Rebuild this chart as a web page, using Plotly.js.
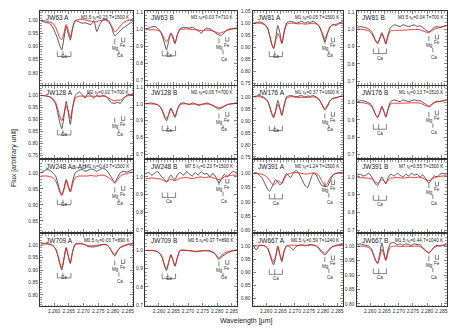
<!DOCTYPE html>
<html>
<head>
<meta charset="utf-8">
<script src="https://cdn.plot.ly/plotly-3.0.1.min.js"></script>
<style>
html, body { margin: 0; padding: 0; background: #fff; }
#grafica { width: 463px; height: 328px; }
</style>
</head>
<body>
<div id="grafica"></div>
<script>
// Longitudes de onda comunes (micras)
const longitudes = [2.2555, 2.2565, 2.2575, 2.2585, 2.2595, 2.2605, 2.2612, 2.2619, 2.2626, 2.2633,
    2.2641, 2.2648, 2.2655, 2.2663, 2.2672, 2.2685, 2.2695, 2.2705, 2.2715, 2.2725,
    2.2735, 2.2745, 2.2755, 2.2765, 2.2775, 2.2785, 2.2795, 2.2806, 2.2815, 2.2825,
    2.2835, 2.2845, 2.2855, 2.2865, 2.2875];

const nombres = ['JW63 A', 'JW63 B', 'JW81 A', 'JW81 B',
    'JW128 A', 'JW128 B', 'JW176 A', 'JW176 B',
    'JW248 Aa-Ab', 'JW248 B', 'JW391 A', 'JW391 B',
    'JW709 A', 'JW709 B', 'JW667 A', 'JW667 B'];

const tipos = ['M3.5', 'M3', 'M1', 'M3.5', 'M2', 'M2', 'M1', 'M1',
    'M1', 'M7.5', 'M0', 'M7', 'M0.5', 'M0.5', 'M0.5', 'M1.5'];
const velado = ['0.23', '0.03', '0.05', '0.04', '0.02', '0.05', '0.37', '0.13',
    '0.43', '0.23', '1.24', '0.55', '0.03', '0.07', '0.59', '0.44'];
const temperaturas = ['1500', '710', '1500', '700', '700', '700', '1600', '1510',
    '1500', '1500', '1500', '1500', '890', '890', '1240', '1040'];

// Espectros observados (negro) y modelos (rojo)
const obs_JW63A = [1.000, 0.995, 0.992, 0.990, 0.975, 0.950, 0.930, 0.905, 0.889, 0.930, 0.977, 0.950, 0.925, 0.970, 1.000, 0.995, 0.990, 0.992, 0.988, 0.985, 1.000, 0.958, 0.985, 1.002, 1.005, 1.000, 0.975, 0.942, 0.950, 0.962, 0.972, 0.980, 0.988, 0.995, 1.000];
const mod_JW63A = [1.000, 1.000, 0.998, 0.995, 0.990, 0.975, 0.955, 0.935, 0.927, 0.950, 0.985, 0.965, 0.935, 0.975, 1.000, 1.005, 1.005, 1.003, 1.000, 0.998, 0.995, 0.997, 1.000, 1.002, 1.002, 0.995, 0.980, 0.958, 0.965, 0.980, 0.992, 0.998, 1.002, 1.005, 1.005];
const obs_JW63B = [1.000, 1.005, 1.012, 1.015, 1.005, 0.985, 0.955, 0.915, 0.879, 0.925, 0.973, 0.945, 0.914, 0.965, 1.000, 1.010, 1.008, 1.005, 1.010, 1.000, 0.990, 0.975, 0.995, 1.005, 1.000, 0.990, 0.975, 0.965, 0.963, 0.980, 0.995, 1.000, 1.003, 1.005, 1.005];
const mod_JW63B = [0.995, 0.995, 0.995, 0.995, 0.993, 0.985, 0.965, 0.940, 0.924, 0.945, 0.975, 0.955, 0.920, 0.965, 0.995, 1.000, 1.000, 0.998, 0.997, 0.995, 0.993, 0.990, 0.992, 0.993, 0.992, 0.988, 0.982, 0.975, 0.978, 0.985, 0.992, 0.997, 1.000, 1.002, 1.003];
const obs_JW81A = [1.000, 1.002, 1.005, 1.003, 0.995, 0.980, 0.950, 0.915, 0.895, 0.935, 0.990, 0.960, 0.916, 0.965, 1.000, 1.008, 1.005, 1.000, 1.003, 1.008, 1.000, 1.005, 1.003, 1.008, 1.000, 0.990, 0.960, 0.922, 0.955, 0.985, 0.995, 0.990, 0.998, 1.005, 1.008];
const mod_JW81A = [1.000, 1.000, 1.000, 0.998, 0.992, 0.978, 0.950, 0.915, 0.895, 0.925, 0.957, 0.940, 0.916, 0.960, 0.995, 1.000, 1.000, 0.998, 0.997, 0.998, 0.996, 0.997, 0.998, 1.000, 0.997, 0.990, 0.965, 0.935, 0.960, 0.985, 0.993, 0.995, 1.000, 1.003, 1.005];
const obs_JW81B = [1.010, 1.015, 1.012, 1.008, 1.000, 0.985, 0.960, 0.935, 0.920, 0.945, 0.980, 0.950, 0.916, 0.970, 1.010, 1.025, 1.020, 1.015, 1.025, 1.020, 1.015, 1.020, 1.025, 1.015, 1.020, 1.010, 0.995, 0.985, 0.995, 1.010, 1.015, 1.010, 1.015, 1.020, 1.020];
const mod_JW81B = [1.000, 1.000, 0.998, 0.995, 0.990, 0.975, 0.955, 0.930, 0.916, 0.940, 0.972, 0.950, 0.916, 0.960, 0.990, 0.992, 0.993, 0.993, 0.994, 0.995, 0.996, 0.997, 0.998, 0.998, 0.996, 0.990, 0.984, 0.980, 0.990, 1.000, 1.005, 1.010, 1.014, 1.018, 1.020];
const obs_JW128A = [1.000, 1.000, 0.998, 0.995, 0.985, 0.965, 0.930, 0.890, 0.862, 0.910, 0.976, 0.930, 0.880, 0.950, 1.000, 1.015, 1.005, 0.990, 1.010, 1.000, 0.990, 1.000, 0.995, 1.000, 0.998, 0.985, 0.970, 0.968, 0.972, 0.968, 0.985, 1.000, 1.005, 1.005, 1.005];
const mod_JW128A = [1.000, 1.000, 0.998, 0.995, 0.988, 0.972, 0.945, 0.915, 0.895, 0.920, 0.958, 0.935, 0.905, 0.950, 0.990, 0.998, 0.998, 0.997, 0.998, 0.998, 0.997, 0.998, 0.998, 0.998, 0.996, 0.990, 0.983, 0.978, 0.982, 0.980, 0.990, 0.997, 1.000, 1.002, 1.002];
const obs_JW128B = [1.000, 1.003, 1.005, 1.000, 0.995, 0.980, 0.955, 0.920, 0.900, 0.935, 0.975, 0.950, 0.920, 0.965, 1.000, 1.005, 1.000, 0.995, 1.005, 1.000, 0.990, 0.995, 1.000, 1.005, 0.998, 0.990, 0.978, 0.968, 0.975, 0.985, 0.995, 1.000, 1.002, 1.005, 1.005];
const mod_JW128B = [1.000, 1.000, 0.999, 0.998, 0.993, 0.982, 0.960, 0.930, 0.912, 0.935, 0.970, 0.950, 0.922, 0.962, 0.995, 1.000, 1.000, 0.998, 0.998, 0.998, 0.996, 0.997, 0.998, 0.999, 0.997, 0.990, 0.982, 0.976, 0.980, 0.988, 0.995, 0.998, 1.000, 1.002, 1.002];
const obs_JW176A = [1.000, 1.003, 1.005, 1.002, 0.995, 0.982, 0.960, 0.930, 0.912, 0.940, 0.985, 0.955, 0.922, 0.965, 1.000, 1.005, 1.003, 1.000, 1.003, 1.005, 1.000, 1.003, 1.002, 1.005, 1.000, 0.990, 0.970, 0.945, 0.960, 0.985, 0.995, 0.995, 1.000, 1.003, 1.005];
const mod_JW176A = [1.000, 1.000, 1.000, 0.998, 0.993, 0.982, 0.962, 0.935, 0.918, 0.940, 0.968, 0.950, 0.925, 0.962, 0.995, 1.000, 1.000, 0.998, 0.997, 0.998, 0.997, 0.998, 0.998, 1.000, 0.997, 0.990, 0.970, 0.950, 0.965, 0.985, 0.993, 0.996, 1.000, 1.002, 1.004];
const obs_JW176B = [1.005, 1.010, 1.010, 1.005, 0.998, 0.985, 0.960, 0.930, 0.912, 0.940, 0.978, 0.950, 0.915, 0.965, 1.005, 1.015, 1.010, 1.005, 1.015, 1.010, 1.005, 1.010, 1.015, 1.010, 1.010, 1.000, 0.990, 0.975, 0.985, 1.000, 1.008, 1.005, 1.010, 1.012, 1.015];
const mod_JW176B = [1.000, 1.000, 0.998, 0.995, 0.990, 0.976, 0.955, 0.930, 0.915, 0.938, 0.970, 0.948, 0.918, 0.960, 0.992, 0.995, 0.996, 0.996, 0.996, 0.997, 0.997, 0.998, 0.998, 0.998, 0.996, 0.990, 0.982, 0.978, 0.988, 0.998, 1.003, 1.006, 1.010, 1.012, 1.014];
const obs_JW248A = [1.000, 1.005, 1.010, 1.008, 1.000, 0.990, 0.970, 0.945, 0.932, 0.950, 0.979, 0.960, 0.942, 0.975, 1.000, 1.008, 1.010, 1.005, 1.008, 1.012, 1.010, 1.005, 1.010, 1.015, 1.010, 1.000, 0.985, 0.970, 0.985, 1.000, 1.005, 1.002, 1.005, 1.010, 1.010];
const mod_JW248A = [0.990, 0.990, 0.990, 0.988, 0.985, 0.975, 0.960, 0.940, 0.929, 0.945, 0.974, 0.955, 0.940, 0.965, 0.985, 0.990, 0.990, 0.990, 0.990, 0.992, 0.990, 0.990, 0.992, 0.993, 0.990, 0.985, 0.978, 0.968, 0.978, 0.990, 0.995, 0.997, 1.000, 1.002, 1.003];
const obs_JW248B = [1.020, 1.025, 1.010, 1.020, 1.030, 1.010, 0.995, 0.985, 0.970, 0.990, 1.010, 0.995, 0.985, 1.010, 1.025, 1.010, 1.030, 1.015, 1.005, 1.025, 1.010, 1.030, 1.015, 1.020, 1.000, 1.020, 1.000, 0.965, 0.990, 1.015, 1.000, 1.020, 1.030, 1.025, 1.030];
const mod_JW248B = [0.990, 0.992, 0.993, 0.992, 0.990, 0.988, 0.983, 0.978, 0.975, 0.980, 0.988, 0.983, 0.978, 0.985, 0.993, 0.995, 0.997, 0.993, 0.990, 0.995, 0.998, 1.000, 0.995, 0.998, 1.000, 0.995, 0.990, 0.985, 0.990, 1.000, 1.005, 1.008, 1.010, 1.010, 1.010];
const obs_JW391A = [1.000, 1.003, 0.995, 0.985, 0.965, 0.945, 0.938, 0.950, 0.965, 0.978, 0.970, 0.960, 0.965, 0.985, 1.000, 0.985, 1.000, 1.011, 1.000, 0.980, 0.960, 0.950, 0.975, 1.000, 0.995, 0.975, 0.958, 0.955, 0.955, 0.975, 0.995, 1.000, 1.002, 1.003, 1.003];
const mod_JW391A = [1.000, 1.000, 0.999, 0.997, 0.993, 0.985, 0.975, 0.965, 0.960, 0.965, 0.975, 0.970, 0.965, 0.980, 0.995, 1.000, 1.003, 1.003, 1.002, 1.000, 0.998, 0.998, 1.000, 1.002, 1.000, 0.993, 0.975, 0.958, 0.965, 0.985, 0.995, 1.000, 1.002, 1.003, 1.004];
const obs_JW391B = [1.010, 1.015, 1.005, 1.010, 1.020, 1.000, 0.980, 0.960, 0.950, 0.975, 1.000, 0.980, 0.960, 0.995, 1.015, 1.005, 1.020, 1.010, 1.000, 1.015, 1.005, 1.020, 1.010, 1.015, 1.000, 1.010, 0.990, 0.965, 0.985, 1.005, 1.000, 1.015, 1.020, 1.015, 1.020];
const mod_JW391B = [0.995, 0.995, 0.995, 0.994, 0.992, 0.988, 0.980, 0.970, 0.965, 0.972, 0.985, 0.978, 0.968, 0.982, 0.993, 0.995, 0.997, 0.995, 0.993, 0.995, 0.997, 0.998, 0.996, 0.998, 0.998, 0.993, 0.985, 0.978, 0.985, 0.995, 1.000, 1.003, 1.005, 1.006, 1.006];
const obs_JW709A = [1.008, 1.008, 1.006, 1.005, 1.000, 0.985, 0.960, 0.925, 0.900, 0.940, 0.990, 0.955, 0.926, 0.975, 1.005, 1.008, 1.005, 1.002, 0.995, 0.993, 0.993, 0.995, 0.998, 1.002, 1.003, 0.995, 0.975, 0.956, 0.975, 0.990, 0.995, 1.000, 1.003, 1.005, 1.008];
const mod_JW709A = [1.005, 1.005, 1.005, 1.003, 0.998, 0.985, 0.962, 0.930, 0.909, 0.945, 0.990, 0.958, 0.930, 0.975, 1.002, 1.005, 1.005, 1.002, 0.998, 0.997, 0.998, 1.000, 1.002, 1.003, 1.003, 0.995, 0.978, 0.963, 0.978, 0.992, 0.998, 1.002, 1.005, 1.007, 1.008];
const obs_JW709B = [1.000, 1.000, 1.000, 0.998, 0.993, 0.980, 0.955, 0.915, 0.890, 0.930, 0.976, 0.945, 0.913, 0.960, 1.000, 1.002, 1.000, 0.998, 0.997, 0.993, 0.995, 0.997, 0.998, 0.998, 0.995, 0.990, 0.975, 0.950, 0.965, 0.975, 0.985, 0.993, 0.998, 1.000, 1.002];
const mod_JW709B = [1.000, 1.000, 1.000, 0.998, 0.993, 0.980, 0.958, 0.920, 0.898, 0.935, 0.976, 0.948, 0.916, 0.960, 0.998, 1.000, 1.000, 0.998, 0.997, 0.995, 0.996, 0.998, 0.999, 0.999, 0.997, 0.990, 0.978, 0.958, 0.972, 0.985, 0.992, 0.997, 1.000, 1.002, 1.003];
const obs_JW667A = [1.000, 0.985, 1.000, 1.002, 1.000, 0.990, 0.970, 0.945, 0.928, 0.955, 0.995, 0.965, 0.940, 0.980, 1.000, 0.995, 0.985, 0.998, 1.002, 1.003, 1.000, 1.002, 1.005, 1.003, 1.000, 0.990, 0.975, 0.966, 0.975, 0.990, 0.998, 1.000, 1.002, 1.005, 1.005];
const mod_JW667A = [1.000, 1.000, 1.002, 1.002, 1.000, 0.992, 0.975, 0.952, 0.940, 0.960, 1.000, 0.970, 0.947, 0.980, 1.000, 1.003, 1.003, 1.002, 1.002, 1.003, 1.003, 1.002, 1.003, 1.003, 1.000, 0.993, 0.980, 0.972, 0.980, 0.992, 0.998, 1.002, 1.005, 1.006, 1.006];
const obs_JW667B = [1.005, 1.008, 1.005, 1.003, 1.000, 0.990, 0.970, 0.952, 0.942, 0.970, 1.011, 0.980, 0.953, 0.990, 1.010, 1.012, 1.005, 1.008, 1.003, 1.008, 1.005, 1.003, 1.008, 1.005, 1.005, 0.995, 0.985, 0.978, 0.985, 0.998, 1.003, 1.000, 1.003, 1.005, 1.005];
const mod_JW667B = [1.000, 1.000, 1.000, 0.998, 0.995, 0.985, 0.968, 0.950, 0.939, 0.960, 0.989, 0.970, 0.950, 0.978, 0.998, 1.000, 1.000, 0.999, 0.999, 1.000, 0.999, 0.999, 1.000, 1.000, 0.998, 0.992, 0.983, 0.976, 0.985, 0.995, 1.000, 1.002, 1.003, 1.004, 1.005];

const observados = [obs_JW63A, obs_JW63B, obs_JW81A, obs_JW81B, obs_JW128A, obs_JW128B, obs_JW176A, obs_JW176B,
    obs_JW248A, obs_JW248B, obs_JW391A, obs_JW391B, obs_JW709A, obs_JW709B, obs_JW667A, obs_JW667B];
const modelos = [mod_JW63A, mod_JW63B, mod_JW81A, mod_JW81B, mod_JW128A, mod_JW128B, mod_JW176A, mod_JW176B,
    mod_JW248A, mod_JW248B, mod_JW391A, mod_JW391B, mod_JW709A, mod_JW709B, mod_JW667A, mod_JW667B];

// Rangos del eje y y paso de las marcas
const rangosY = [[0.755, 1.037], [0.675, 1.105], [0.745, 1.0505], [0.68, 1.105],
    [0.74, 1.04], [0.68, 1.105], [0.745, 1.045], [0.68, 1.095],
    [0.815, 1.04], [0.69, 1.095], [0.795, 1.047], [0.69, 1.095],
    [0.755, 1.045], [0.695, 1.09], [0.772, 1.045], [0.793, 1.042]];
const pasosY = [0.05, 0.1, 0.05, 0.1, 0.05, 0.1, 0.05, 0.1,
    0.05, 0.1, 0.05, 0.1, 0.05, 0.1, 0.05, 0.05];

// Lineas identificadas (Ca, Mg, Fe)
const lineasCa = [2.2611, 2.2630, 2.2657];
const lineaMg = 2.2806;
const lineasFe = [2.2829, 2.2840];
const lineaCa2 = 2.2820;

// Desplazamiento vertical de las marcas por panel
const despMarcas = [0, 0.01, 0, 0.04, -0.06, 0, 0, 0.02, 0, 0.10, 0.08, 0.06, 0.01, 0, 0.06, 0.07];

const W = 463, H = 328;
const columnasPx = [[40, 133], [145, 237], [252.5, 342.5], [356.5, 446.5]];
const filasPx = [[11, 84.5], [86, 158], [160, 232], [234, 306]];
const fuente = 'Liberation Sans, Arial, sans-serif';

const trazas = [];
const layout = {
    width: W, height: H,
    margin: { l: 0, r: 0, t: 0, b: 0 },
    paper_bgcolor: '#fff', plot_bgcolor: '#fff',
    showlegend: false,
    font: { family: fuente, color: '#333', size: 5 },
    annotations: [],
    shapes: []
};

for (let i = 0; i < 16; i++) {
    const fila = Math.floor(i / 4), col = i % 4;
    const sx = i === 0 ? '' : String(i + 1);
    const xr = 'x' + sx, yr = 'y' + sx;

    trazas.push({
        x: longitudes, y: observados[i], xaxis: xr, yaxis: yr,
        type: 'scatter', mode: 'lines',
        line: { color: '#2a2a2a', width: 0.8, shape: 'spline', smoothing: 0.6 },
        hoverinfo: 'skip'
    });
    trazas.push({
        x: longitudes, y: modelos[i], xaxis: xr, yaxis: yr,
        type: 'scatter', mode: 'lines',
        line: { color: '#ee2020', width: 0.9, shape: 'spline', smoothing: 0.6 },
        hoverinfo: 'skip'
    });

    const cx = columnasPx[col], fy = filasPx[fila];
    layout['xaxis' + sx] = {
        domain: [cx[0] / W, cx[1] / W],
        anchor: yr,
        range: [2.2552, 2.2868],
        dtick: 0.005, tick0: 2.26, tickformat: '.3f', tickangle: 0,
        ticks: 'inside', ticklen: 3, tickwidth: 0.6, tickcolor: '#333',
        minor: { dtick: 0.001, ticks: 'inside', ticklen: 1.5, tickwidth: 0.5, tickcolor: '#333' },
        showline: true, linecolor: '#333', linewidth: 1, mirror: 'allticks',
        showgrid: false, zeroline: false,
        showticklabels: fila === 3,
        tickfont: { size: 5, color: '#333' }
    };
    const paso = pasosY[i];
    layout['yaxis' + sx] = {
        domain: [1 - fy[1] / H, 1 - fy[0] / H],
        anchor: xr,
        range: rangosY[i],
        dtick: paso, tick0: 0, tickformat: paso === 0.1 ? '.1f' : '.2f',
        ticks: 'inside', ticklen: 3, tickwidth: 0.6, tickcolor: '#333',
        minor: { dtick: paso / 5, ticks: 'inside', ticklen: 1.5, tickwidth: 0.5, tickcolor: '#333' },
        showline: true, linecolor: '#333', linewidth: 1, mirror: 'allticks',
        showgrid: false, zeroline: false,
        tickfont: { size: 5, color: '#333' }
    };

    // Nombre del objeto y parametros
    layout.annotations.push({
        xref: xr + ' domain', yref: yr + ' domain', x: 0.04, y: 0.99,
        xanchor: 'left', yanchor: 'top', showarrow: false,
        text: nombres[i], font: { size: 6.5, color: '#222' }
    });
    layout.annotations.push({
        xref: xr + ' domain', yref: yr + ' domain', x: 0.99, y: 0.975,
        xanchor: 'right', yanchor: 'top', showarrow: false,
        text: tipos[i] + ' r<sub>K</sub>=' + velado[i] + ' T=' + temperaturas[i] + ' K',
        font: { size: 4.6, color: '#222' }
    });

    // Marcas de lineas
    const d = despMarcas[i];
    const estilo = { color: '#333', width: 0.6 };
    const ydom = yr + ' domain';
    const linea = (x0, y0, x1, y1) => layout.shapes.push({
        type: 'line', xref: xr, yref: ydom, x0: x0, y0: y0, x1: x1, y1: y1, line: estilo
    });
    // Ca triplete
    linea(lineasCa[0], 0.38 + d, lineasCa[2], 0.38 + d);
    lineasCa.forEach(l => linea(l, 0.38 + d, l, 0.45 + d));
    layout.annotations.push({ xref: xr, yref: ydom, x: 2.2634, y: 0.32 + d, showarrow: false,
        text: 'Ca', font: { size: 4.6, color: '#333' } });
    // Mg
    linea(lineaMg, 0.55 + d, lineaMg, 0.62 + d);
    layout.annotations.push({ xref: xr, yref: ydom, x: lineaMg + 0.0002, y: 0.495 + d, showarrow: false,
        text: 'Mg', font: { size: 4.6, color: '#333' } });
    // Fe
    linea(lineasFe[0], 0.58 + d, lineasFe[1], 0.58 + d);
    lineasFe.forEach(l => linea(l, 0.58 + d, l, 0.64 + d));
    layout.annotations.push({ xref: xr, yref: ydom, x: 2.2835, y: 0.525 + d, showarrow: false,
        text: 'Fe', font: { size: 4.6, color: '#333' } });
    // Ca segunda
    linea(lineaCa2, 0.40 + d, lineaCa2, 0.46 + d);
    layout.annotations.push({ xref: xr, yref: ydom, x: lineaCa2 + 0.0003, y: 0.33 + d, showarrow: false,
        text: 'Ca', font: { size: 4.6, color: '#333' } });
}

// Titulos de los ejes
layout.annotations.push({
    xref: 'paper', yref: 'paper', x: 14 / W, y: 1 - 158 / H,
    xanchor: 'center', yanchor: 'middle',
    textangle: -90, showarrow: false, text: 'Flux [arbitrary unit]',
    font: { size: 7, color: '#222' }
});
layout.annotations.push({
    xref: 'paper', yref: 'paper', x: 246 / W, y: 1 - 321 / H,
    xanchor: 'center', yanchor: 'middle',
    showarrow: false, text: 'Wavelength [µm]',
    font: { size: 7, color: '#222' }
});

Plotly.newPlot('grafica', trazas, layout, { staticPlot: true, displayModeBar: false });
</script>
</body>
</html>
